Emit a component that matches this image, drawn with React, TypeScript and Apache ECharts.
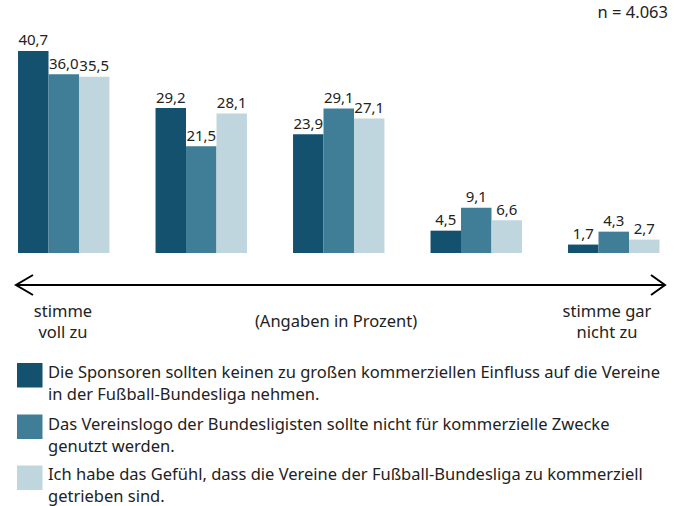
import React, { useEffect, useRef } from "react";
import * as echarts from "echarts";

const categories = ["stimme voll zu", "2", "3", "4", "stimme gar nicht zu"];
const seriesNames = [
  "Die Sponsoren sollten keinen zu großen kommerziellen Einfluss auf die Vereine\nin der Fußball-Bundesliga nehmen.",
  "Das Vereinslogo der Bundesligisten sollte nicht für kommerzielle Zwecke\ngenutzt werden.",
  "Ich habe das Gefühl, dass die Vereine der Fußball-Bundesliga zu kommerziell\ngetrieben sind.",
];
const sponsoren = [40.7, 29.2, 23.9, 4.5, 1.7];
const vereinslogo = [36.0, 21.5, 29.1, 9.1, 4.3];
const kommerziell = [35.5, 28.1, 27.1, 6.6, 2.7];
const sampleNote = "n = 4.063";
const axisNote = "(Angaben in Prozent)";
const leftEnd = "stimme\nvoll zu";
const rightEnd = "stimme gar\nnicht zu";
const colors = ["#13516f", "#3f7e96", "#bfd6de"];
const FONT = "'Noto Sans', 'Open Sans', sans-serif";
const OX = 5; // inner chart is shifted 5px left of the page

export default function App() {
  const ref = useRef<HTMLDivElement>(null);
  useEffect(() => {
    document.body.style.margin = "0";
    const chart = echarts.init(ref.current!, undefined, { renderer: "svg" });
    const data = [sponsoren, vereinslogo, kommerziell];
    const legendGraphics: any[] = [];
    const iconTops = [363, 414.5, 465.5];
    const textTops = [360.5, 412, 462];
    seriesNames.forEach((name, i) => {
      legendGraphics.push({
        type: "rect",
        shape: { x: 17 + OX, y: iconTops[i], width: 25.5, height: 24.5 },
        style: { fill: colors[i] },
      });
      legendGraphics.push({
        type: "text",
        x: 48 + OX,
        y: textTops[i],
        style: {
          text: name,
          font: `16.5px ${FONT}`,
          fill: "#222",
          lineHeight: 22,
          textVerticalAlign: "top",
        },
      });
    });
    chart.setOption({
      animation: false,
      textStyle: { fontFamily: FONT },
      grid: { left: 0, right: 2.5, top: 4.8, bottom: 253, containLabel: false },
      xAxis: {
        type: "category",
        data: categories,
        axisLine: { show: false },
        axisTick: { show: false },
        axisLabel: { show: false },
      },
      yAxis: {
        type: "value",
        min: 0,
        max: 50,
        show: false,
        splitLine: { show: false },
      },
      series: data.map((d, i) => ({
        type: "bar",
        name: seriesNames[i],
        data: d,
        barGap: "0%",
        barCategoryGap: "33.5%",
        itemStyle: { color: colors[i] },
        label: {
          show: true,
          position: "top",
          distance: 4,
          color: "#222",
          fontSize: 15,
          fontFamily: FONT,
          formatter: (p: any) => p.value.toFixed(1).replace(".", ","),
        },
      })),
      graphic: [
        {
          type: "text",
          x: 668 + OX,
          y: 11.5,
          style: {
            text: sampleNote,
            font: `16.5px ${FONT}`,
            fill: "#222",
            align: "right",
            verticalAlign: "middle",
          },
        },
        {
          type: "line",
          shape: { x1: 16 + OX, y1: 285, x2: 665 + OX, y2: 285 },
          style: { stroke: "#000", lineWidth: 2 },
        },
        {
          type: "polyline",
          shape: { points: [[33 + OX, 275], [16 + OX, 285], [33 + OX, 295]] },
          style: { stroke: "#000", lineWidth: 2, fill: "none" },
        },
        {
          type: "polyline",
          shape: { points: [[651 + OX, 275], [665 + OX, 285], [651 + OX, 295]] },
          style: { stroke: "#000", lineWidth: 2, fill: "none" },
        },
        {
          type: "text",
          x: 63 + OX,
          y: 320.5,
          style: {
            text: leftEnd,
            font: `16.5px ${FONT}`,
            fill: "#222",
            align: "center",
            verticalAlign: "middle",
            lineHeight: 21,
          },
        },
        {
          type: "text",
          x: 336 + OX,
          y: 320,
          style: {
            text: axisNote,
            font: `16.5px ${FONT}`,
            fill: "#222",
            align: "center",
            verticalAlign: "middle",
          },
        },
        {
          type: "text",
          x: 607 + OX,
          y: 320.5,
          style: {
            text: rightEnd,
            font: `16.5px ${FONT}`,
            fill: "#222",
            align: "center",
            verticalAlign: "middle",
            lineHeight: 21,
          },
        },
        ...legendGraphics,
      ],
    });
    return () => chart.dispose();
  }, []);
  return (
    <div style={{ position: "relative", width: 685, height: 506, overflow: "hidden" }}>
      <div ref={ref} style={{ position: "absolute", left: -OX, top: 0, width: 685 + OX, height: 506 }} />
    </div>
  );
}
